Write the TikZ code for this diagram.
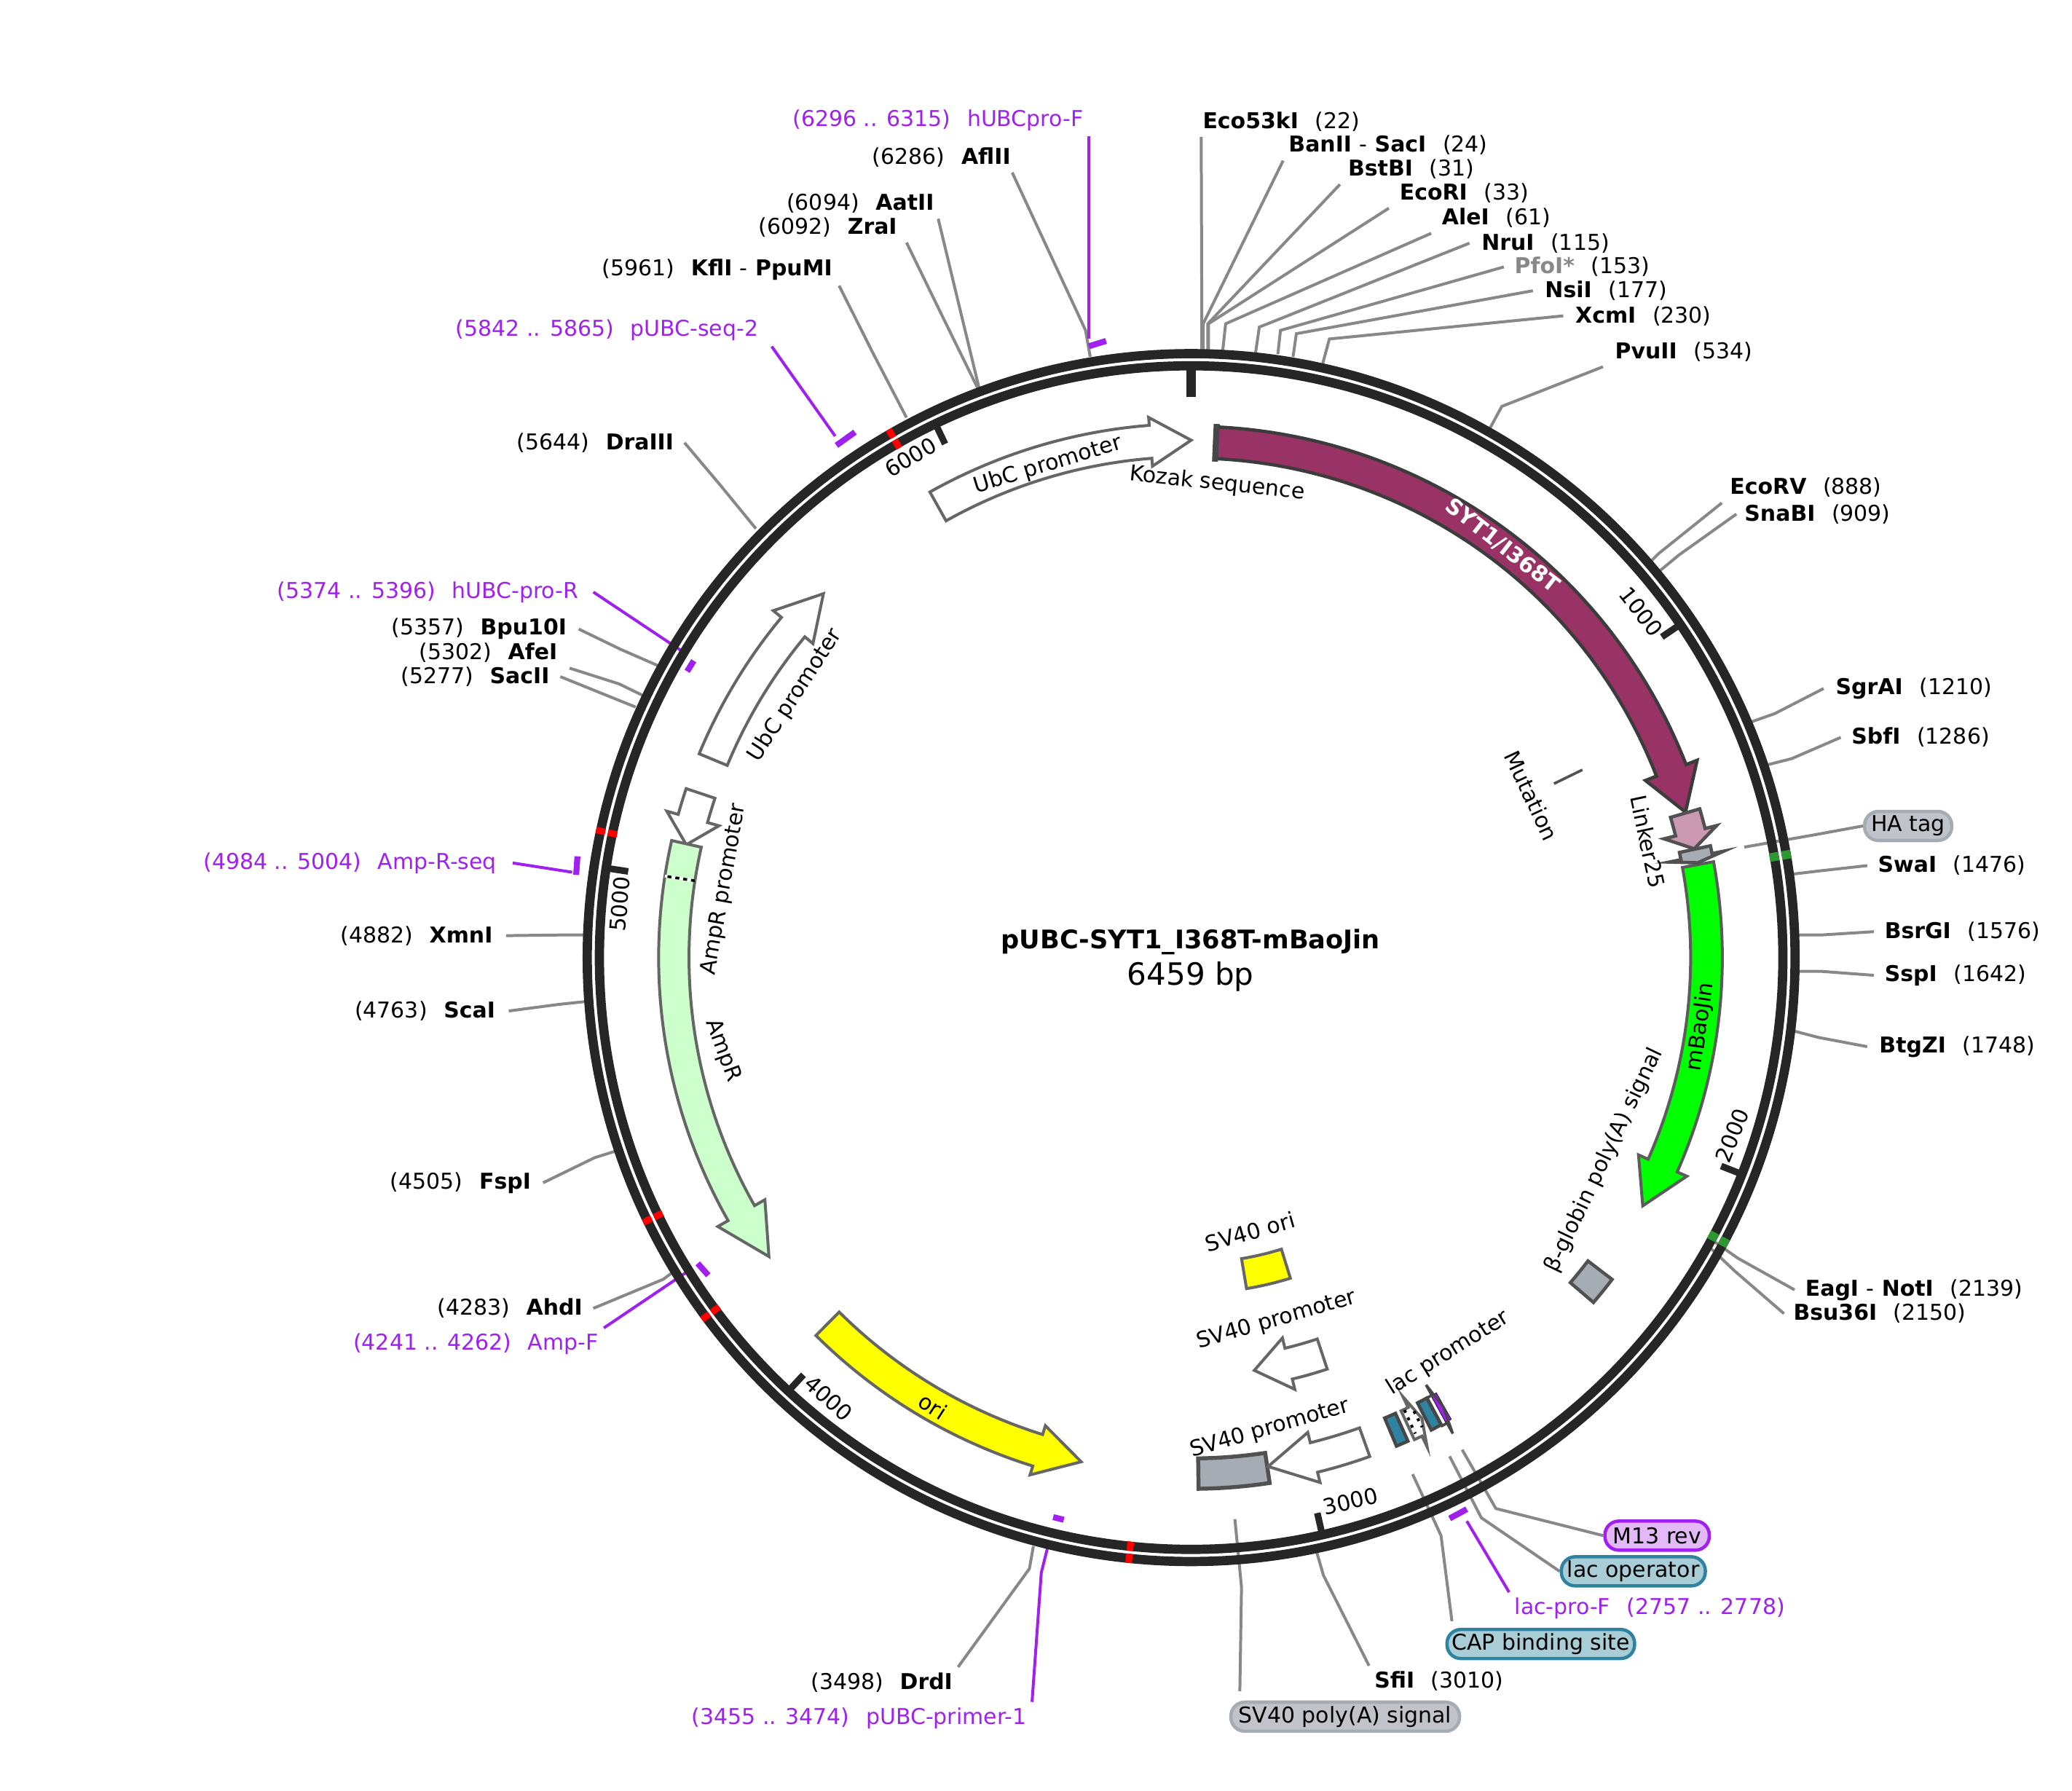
\documentclass[tikz,border=0pt]{standalone}
\usepackage{fontspec}
\setmainfont{DejaVu Sans}
\definecolor{ringdark}{HTML}{262626}
\definecolor{leadergray}{HTML}{888888}
\definecolor{outlinegray}{HTML}{666666}
\definecolor{primerpurple}{HTML}{A020F0}
\definecolor{sytfill}{HTML}{993366}
\definecolor{hafill}{HTML}{CC99B2}
\definecolor{graybox}{HTML}{A6ACB4}
\definecolor{tealbox}{HTML}{2E84A0}
\definecolor{pillgray}{HTML}{C0C4CA}
\definecolor{pillteal}{HTML}{A9CDD6}
\definecolor{pillpurple}{HTML}{E3B8F7}
\definecolor{ampfill}{HTML}{CCFFCC}
\definecolor{markgreen}{HTML}{2E9632}
\definecolor{orifill}{HTML}{FFFF00}
\newcommand{\gapsp}{\hspace{12.5pt}}
\tikzset{
  txt/.style={font=\fontsize{16.5}{18}\selectfont,inner sep=0pt},
  enz/.style={font=\fontsize{16.5}{18}\selectfont,inner ysep=4pt,yshift=-1pt},
  leader/.style={leadergray,line width=2.2pt},
  primerlead/.style={primerpurple,line width=2.2pt},
  primertext/.style={font=\fontsize{16.5}{18}\selectfont,text=primerpurple,inner ysep=4pt,inner xsep=4pt,yshift=-1pt},
  primerbar/.style={primerpurple,line width=4.5pt},
  ringline/.style={ringdark,line width=7pt},
  tick/.style={ringdark,line width=5pt},
  feat/.style={draw=outlinegray,line width=2.2pt,line join=miter},
  pill/.style={font=\fontsize{16.5}{18}\selectfont,rounded corners=10.5pt,line width=2.5pt,minimum height=22pt,inner xsep=0pt,inner ysep=0pt,yshift=-1pt},
}
\newcommand{\featarrow}[7]{\draw[#1] (#2:#5) arc (#2:#3:#5) -- (#3:{#5-#7}) -- (#4:{(#5+#6)/2}) -- (#3:{#6+#7}) -- (#3:#6) arc (#3:#2:#6) -- cycle;}
\newcommand{\featbox}[5]{\draw[#1] (#2:#4) arc (#2:#3:#4) -- (#3:#5) arc (#3:#2:#5) -- cycle;}
\begin{document}
\begin{tikzpicture}[x=1pt,y=-1pt]
\useasboundingbox (0,0) rectangle (1568,1355);
\fill[white] (0,0) rectangle (1568,1355);
% sites on the right
\foreach \nm/\lab/\pos/\x/\y/\m/\a/\kx/\ky/\ex/\ey in {
  eco/Eco53kI/22/910/91/1/south west/909.5/245/909.5/268,
  ban/BanII {\normalfont-} SacI/24/975/109/4/south west/910.5/245/910.5/268,
  bst/BstBI/31/1020/127/6/south west/914/245/914/268,
  ecor/EcoRI/33/1059/145/8/south west/914.5/245/914.5/268,
  ale/AleI/61/1091/164/8/south west/927.5/245/925/268,
  nru/NruI/115/1121/183/9/west/953/247.5/950/268,
  nsi/NsiI/177/1169/219/9/west/981/252.5/978.5/270,
  xcm/XcmI/230/1192/238/9/west/1006/256.5/1001/275,
  pvu/PvuII/534/1222/265/9/south west/1136.5/307.5/1127/325,
  ecov/EcoRV/888/1309/368/6/south west/1255/419/1250/424,
  sna/SnaBI/909/1320/388/6/west/1270.5/420/1256/432,
  sgr/SgrAI/1210/1389/520/9/west/1343/540/1324.5/546.5,
  sbf/SbfI/1286/1401/557/8/west/1356/574/1336.5/579,
  swa/SwaI/1476/1421/654/8/west/1377/659/1356/661.5,
  bsr/BsrGI/1576/1426/704/8/west/1378/707.5/1358.5/707.5,
  ssp/SspI/1642/1426/737/8/west/1378/735/1358.5/735,
  btg/BtgZI/1748/1422/791/9/west/1376/785/1357/780,
  eag/EagI {\normalfont-} NotI/2139/1366/975/8/west/1315/952/1298/940,
  bsu/Bsu36I/2150/1357/993/7/west/1313/962/1295/945,
  sfi/SfiI/3010/1040/1271/4/north west/1001.5/1192/996/1173}
{
  \node[enz,anchor=west,inner xsep=\m pt] (s\nm) at ({\x-\m},\y) {\textbf{\lab}\gapsp(\pos)};
  \draw[leader] (s\nm.\a) -- (\kx,\ky) -- (\ex,\ey);
}
\node[enz,anchor=west,inner xsep=8pt] (spfo) at (1138,201) {\textbf{\textcolor{leadergray}{PfoI*}}\gapsp(153)};
\draw[leader] (spfo.west) -- (969,250) -- (967,268);
% sites on the left
\foreach \nm/\lab/\pos/\x/\y/\m/\a/\kx/\ky/\ex/\ey in {
  afl/AflII/6286/765/118/1/south east/821.5/250/825/270,
  aat/AatII/6094/707/153/3/south east/725.5/230/741/294,
  zra/ZraI/6092/679/171/7/south east/713/239/740/294,
  kfl/KflI {\normalfont-} PpuMI/5961/630/203/5/south east/660/266/686/316,
  dra/DraIII/5644/510/334/8/east/545/367/572/400,
  bpu/Bpu10I/5357/429/475/9/east/470/491.5/497.5/503.5,
  afe/AfeI/5302/422/493/9/south east/468.5/517.5/486/526,
  sac/SacII/5277/416/511/8/east/468.5/530/481/535,
  xmn/XmnI/4882/373/707/10/east/423/707.5/442/707.5,
  sca/ScaI/4763/375/764/10/east/423/760/442/758,
  fsp/FspI/4505/402/894/9/east/450/876/466/871,
  ahd/AhdI/4283/441/989/8/east/502/968/510/962,
  drd/DrdI/3498/721/1272/4/north east/779/1187/782/1170}
{
  \node[enz,anchor=east,inner xsep=\m pt] (s\nm) at ({\x+\m},\y) {(\pos)\gapsp\textbf{\lab}};
  \draw[leader] (s\nm.\a) -- (\kx,\ky) -- (\ex,\ey);
}
% primers
\node[primertext,anchor=east] (prhf) at (824,90) {(6296 .. 6315)\gapsp hUBCpro-F};
\node[primertext,anchor=east,inner xsep=10pt] (prseq) at (584,249) {(5842 .. 5865)\gapsp pUBC-seq-2};
\node[primertext,anchor=east,inner xsep=11pt] (prhr) at (449,447) {(5374 .. 5396)\gapsp hUBC-pro-R};
\node[primertext,anchor=east,inner xsep=12pt] (pramr) at (388,652) {(4984 .. 5004)\gapsp Amp-R-seq};
\node[primertext,anchor=east] (prampf) at (457,1016) {(4241 .. 4262)\gapsp Amp-F};
\node[primertext,anchor=east] (prone) at (781,1299) {(3455 .. 3474)\gapsp pUBC-primer-1};
\node[primertext,anchor=west] (prlac) at (1142,1216) {lac-pro-F\gapsp(2757 .. 2778)};
\coordinate (hfend) at (824,256);
\coordinate (seqend) at (632,330);
\coordinate (hrend) at (518,494);
\coordinate (amrend) at (433,660);
\coordinate (ampfend) at (522,961);
\coordinate (oneend) at (793,1170);
\coordinate (lacend) at (1110,1151);
\draw[primerlead] (prhf.south east) -- (hfend);
\draw[primerlead] (prseq.south east) -- (seqend);
\draw[primerlead] (prhr.east) -- (hrend);
\draw[primerlead] (pramr.east) -- (amrend);
\draw[primerlead] (prampf.north east) -- (ampfend);
\draw[primerlead] (prone.north east) -- (788,1190) -- (oneend);
\draw[primerlead] (prlac.north west) -- (lacend);
\draw[primerbar] (824,262) -- (837,258);
\draw[primerbar] (633,337) -- (647,327);
\draw[primerbar] (520,508) -- (525,500);
\draw[primerbar] (437,648) -- (436,662);
\draw[primerbar] (528,956) -- (536,965);
\draw[primerbar] (797,1148) -- (805,1150);
\draw[primerbar] (1097,1149) -- (1110,1142);
% feature pills
\node[pill,draw=graybox,fill=pillgray,minimum width=66pt] (ha) at (1444,624) {HA tag};
\node[pill,draw=primerpurple,fill=pillpurple,minimum width=79pt] (mrev) at (1254,1161) {M13 rev};
\node[pill,draw=tealbox,fill=pillteal,minimum width=109pt] (lacop) at (1236,1188) {lac operator};
\node[pill,draw=tealbox,fill=pillteal,minimum width=142pt] (cap) at (1166,1243) {CAP binding site};
\node[pill,draw=graybox,fill=pillgray,minimum width=173pt] (polya) at (1018,1298) {SV40 poly(A) signal};
\draw[leader] (ha.west) -- (1371.5,632) -- (1320,641);
\draw[leader] (mrev.west) -- (1132,1141.5) -- (1106.5,1097);
\draw[leader] (lacop.west) -- (1121,1148.5) -- (1097,1102);
\draw[leader] (cap.north west) ++(5,-5) -- (1090.5,1162) -- (1069,1115.5);
\draw[leader] (polya.north west) ++(8,-7) -- (939.5,1201) -- (934.5,1149.5);
\begin{scope}[shift={(901.4,724.6)}]
\draw[ringline] (0,0) circle[radius=457];
\draw[ringline] (0,0) circle[radius=447.8];
\foreach \a in {240.2,192.1,154.2,143.5,95.9}
{
  \draw[red,line width=5pt] (\a:451.3) -- (\a:444.3);
  \draw[red,line width=5pt] (\a:460.5) -- (\a:453.5);
}
\foreach \a in {-9.8,28.1}
{
  \draw[markgreen,line width=6.5pt] (\a:451.3) -- (\a:444.3);
  \draw[markgreen,line width=6.5pt] (\a:460.5) -- (\a:453.5);
}
\draw[tick,line width=6.8pt] (-90:445) -- (-90:424);
\foreach \a in {-34.26,21.47,77.2,132.9,188.7,244.4}
  \draw[tick] (\a:445) -- (\a:431);
% features
\featarrow{feat,fill=white}{-119.3}{-94.5}{-90}{379}{404}{6}
\featarrow{feat,fill=white}{-157.5}{-140.3}{-135.3}{380}{403}{8}
\featarrow{feat,fill=white}{-161.5}{-164.4}{-167.4}{380}{403}{9}
\featarrow{feat,fill=ampfill}{192.7}{150.4}{144.7}{380}{403}{9}
\draw[white,line width=2pt] (188.8:380) -- (188.8:403);
\draw[black,line width=2pt,dash pattern=on 3pt off 3pt] (188.8:380) -- (188.8:403);
\featarrow{feat,fill=orifill}{134.8}{107.3}{102.3}{378}{403}{7}
\featbox{feat,fill=graybox,draw=ringdark!80,line width=3pt}{89.2}{81.5}{379}{402}
\featarrow{feat,fill=white}{70.3}{76.2}{81.4}{378}{401}{8}
\featarrow{feat,fill=white}{71.7}{76.5}{81.3}{304}{328}{8}
\featbox{feat,fill=orifill}{72.8}{80.5}{231}{254}
\featbox{feat,fill=graybox,draw=ringdark!80,line width=2.5pt}{37.4}{40.6}{378}{401}
\featarrow{feat,fill=green,draw=ringdark!75,line width=2.2pt}{-10.4}{23.8}{28.8}{378}{402}{8}
\featarrow{draw=ringdark!90,line width=2.5pt,fill=sytfill}{-87.2}{-21.3}{-16.4}{378}{402}{9}
\featbox{draw=ringdark!85,line width=2.5pt,fill=sytfill}{-87.4}{-87.1}{377}{403}
\featarrow{feat,fill=hafill,draw=ringdark!80,line width=2.5pt}{-16.3}{-14.1}{-12.2}{378}{401}{9}
\featarrow{feat,fill=graybox,draw=ringdark!80,line width=2.5pt}{-12.15}{-11.3}{-10.6}{378}{402}{9}
\featbox{feat,fill=tealbox,draw=ringdark!85,line width=2.5pt}{65.85}{67.2}{378}{401}
\featarrow{feat,fill=white}{65.15}{64.25}{63.4}{378}{402}{9}
\featbox{feat,fill=tealbox,draw=ringdark!85,line width=2.5pt}{61.85}{63.05}{378}{401}
\featbox{fill=primerpurple}{60.6}{61.3}{378}{401}
\featarrow{draw=ringdark!85,line width=2pt}{61.8}{61.2}{60.7}{378}{402}{9}
\end{scope}
\draw[black,line width=2.2pt,dash pattern=on 2.2pt off 4pt] (1062.8,1067) -- (1071,1084.8);
\draw[black,line width=2.2pt,dash pattern=on 2.2pt off 4pt] (1070,1067.8) -- (1076.2,1079.9);
\draw[ringdark!80,line width=2pt] (1176,593) -- (1197.5,582.5);
% tick labels
\foreach \nm/\lab/\x/\y/\r in {
  ta/1000/1242/463/-52,
  tb/2000/1311/859/68,
  tc/3000/1022/1136/13,
  td/4000/627/1058/-42,
  te/5000/469/684/85,
  tf/6000/689/346/31}
  \node[txt,rotate=\r] (\nm) at (\x,\y) {\lab};
% feature labels
\foreach \nm/\lab/\x/\y/\r in {
  lubca/UbC promoter/793/352/17,
  lkoz/Kozak sequence/921/366/-6,
  lubcb/UbC promoter/602/526/57,
  lapr/AmpR promoter/548/673/80,
  lamp/AmpR/547/795/-70,
  lbao/mBaoJin/1287/777/82,
  llink/Linker25/1247/637/-78,
  lmut/Mutation/1159/602/-65,
  lbeta/β-globin poly(A) signal/1214/878/64.5,
  lsvo/SV40 ori/946/932/16,
  lsvp/SV40 promoter/966/999/16,
  lsvq/SV40 promoter/961/1081/16,
  llac/lac promoter/1096/1024/32,
  lori/ori/706/1064/-33}
  \node[txt,rotate=\r] (\nm) at (\x,\y) {\lab};
\node[txt,rotate=-38,text=white,font=\fontsize{16.5}{18}\selectfont\bfseries] (lsyt) at (1137,413) {SYT1/I368T};
\node[txt,font=\fontsize{19.4}{22}\selectfont\bfseries] (title) at (901,713) {pUBC-SYT1\_I368T-mBaoJin};
\node[txt,font=\fontsize{23.2}{26}\selectfont] (size) at (901,739) {6459 bp};
\end{tikzpicture}
\end{document}
